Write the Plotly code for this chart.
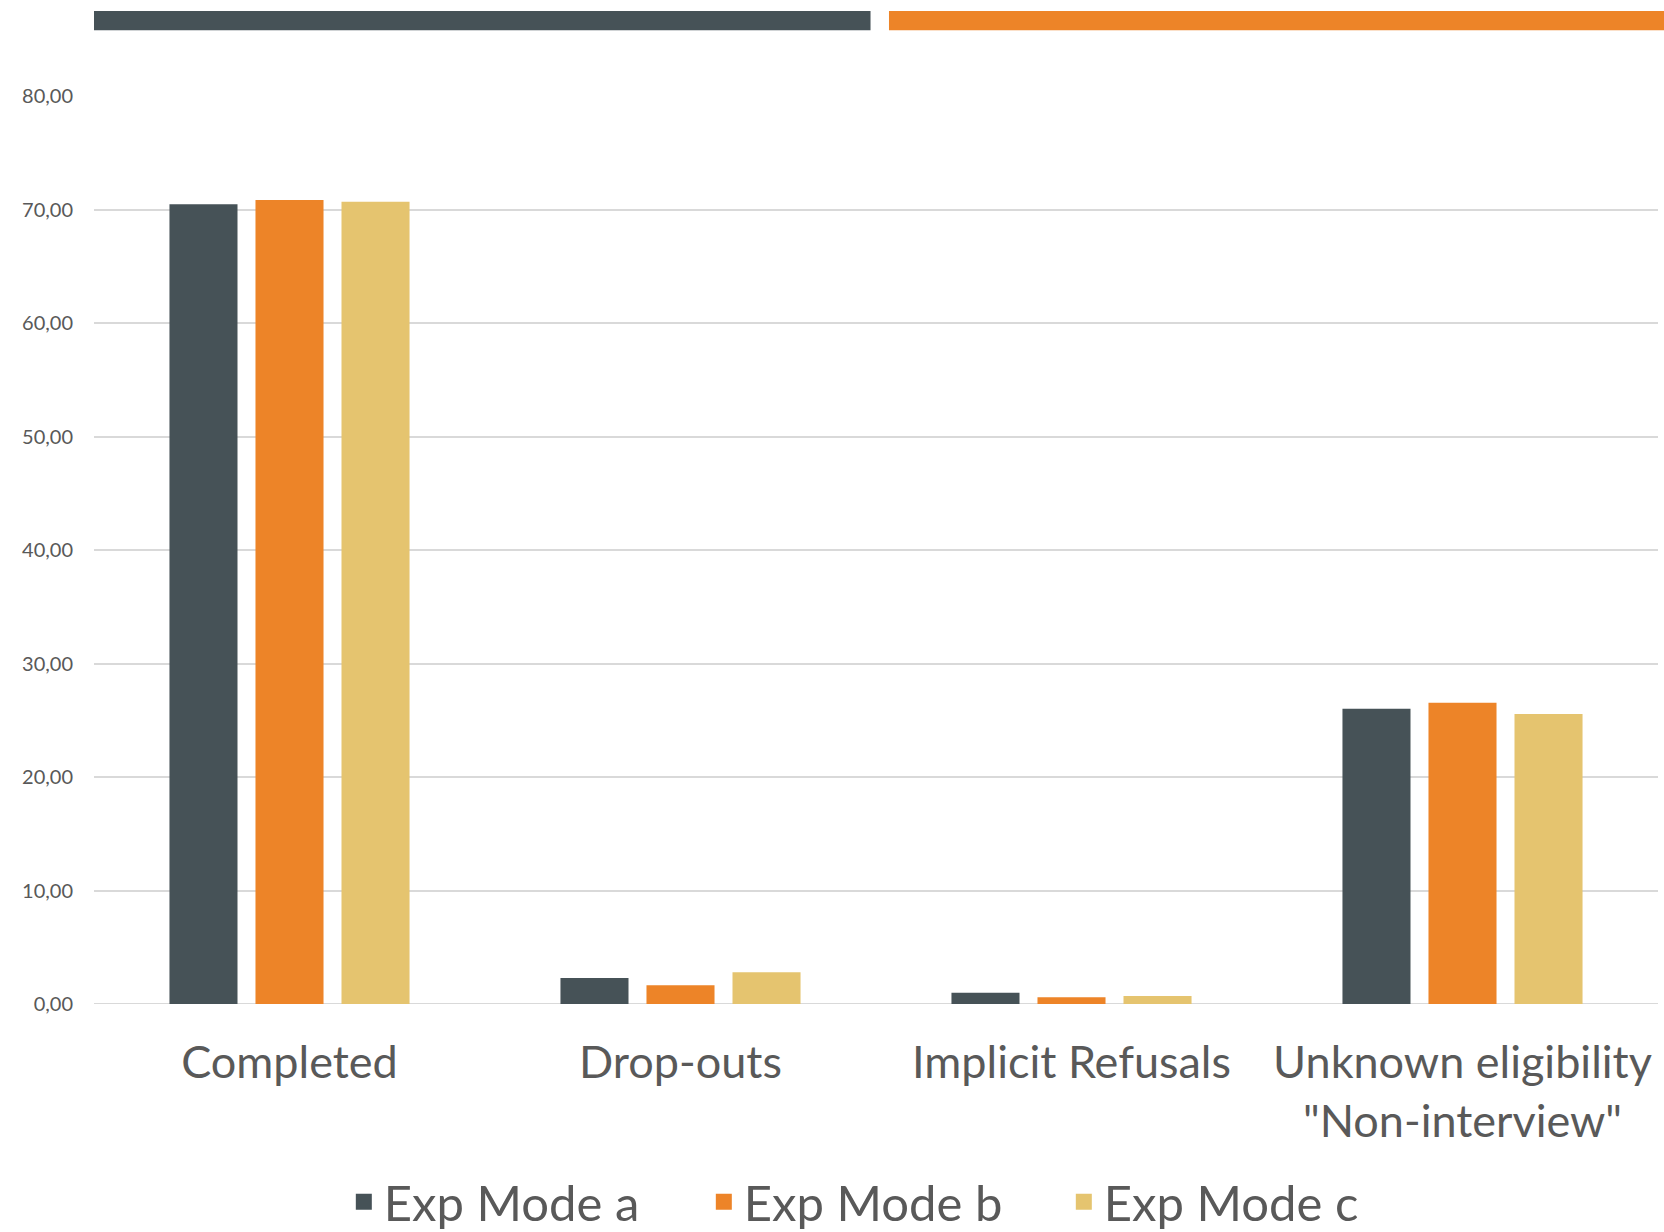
import plotly.graph_objects as go

categories = ["Completed", "Drop-outs", "Implicit Refusals", "Unknown eligibility<br>\"Non-interview\""]
series_names = ["Exp Mode a", "Exp Mode b", "Exp Mode c"]
mode_a = [70.46, 2.29, 1.00, 26.02]
mode_b = [70.84, 1.65, 0.59, 26.55]
mode_c = [70.69, 2.79, 0.70, 25.55]
tick_vals = [0, 10, 20, 30, 40, 50, 60, 70, 80]
tick_text = ["0,00", "10,00", "20,00", "30,00", "40,00", "50,00", "60,00", "70,00", "80,00"]

colors = ["#465257", "#ED8428", "#E5C46F"]
offsets = [-0.307, -0.087, 0.133]
bar_w = 0.174
FONT = "Lato, 'Open Sans', sans-serif"
TXT = "#595959"

fig = go.Figure()
for name, vals, col, off in zip(series_names, [mode_a, mode_b, mode_c], colors, offsets):
    fig.add_trace(go.Bar(
        x=list(range(len(categories))), y=vals, name=name,
        marker=dict(color=col, line=dict(width=0)),
        width=bar_w, offset=off, showlegend=False, legendgroup=name,
    ))
# legend entries with larger square swatches
for name, col in zip(series_names, colors):
    fig.add_trace(go.Scatter(
        x=[None], y=[None], mode="markers", name=name, legendgroup=name,
        marker=dict(symbol="square", size=26, color=col, line=dict(width=0)),
        showlegend=True,
    ))

fig.update_layout(
    width=1664, height=1232,
    margin=dict(l=94, r=6, t=96, b=228, autoexpand=False),
    paper_bgcolor="white", plot_bgcolor="white",
    barmode="overlay",
    font=dict(family=FONT, color=TXT),
    showlegend=True,
    legend=dict(orientation="h", x=0.505, xanchor="center", y=-0.218, yanchor="middle",
                font=dict(size=49, color=TXT), entrywidth=315, traceorder="normal",
                itemsizing="trace"),
    xaxis=dict(
        tickmode="array", tickvals=list(range(len(categories))), ticktext=categories,
        range=[-0.5, len(categories) - 0.5], automargin=False,
        showgrid=False, zeroline=False, showline=False, ticks="",
        tickfont=dict(size=45, color=TXT), ticklabelstandoff=28,
    ),
    yaxis=dict(
        range=[0, 80], tickmode="array", tickvals=tick_vals, ticktext=tick_text,
        automargin=False,
        showgrid=True, gridcolor="#D9D9D9", gridwidth=2,
        zeroline=False, showline=False, ticks="",
        tickfont=dict(size=20, color=TXT), ticklabelstandoff=20,
    ),
    shapes=[
        dict(type="rect", xref="paper", yref="paper", x0=0, x1=0.4965, y0=1.0724, y1=1.0935,
             fillcolor="#465257", line=dict(width=0)),
        dict(type="rect", xref="paper", yref="paper", x0=0.5083, x1=1.01, y0=1.0724, y1=1.0935,
             fillcolor="#ED8428", line=dict(width=0)),
    ],
)
fig.add_shape(type="line", xref="paper", yref="y", x0=0, x1=1, y0=0, y1=0,
              line=dict(color="#D9D9D9", width=2), layer="below")

fig.write_html("out.html")
